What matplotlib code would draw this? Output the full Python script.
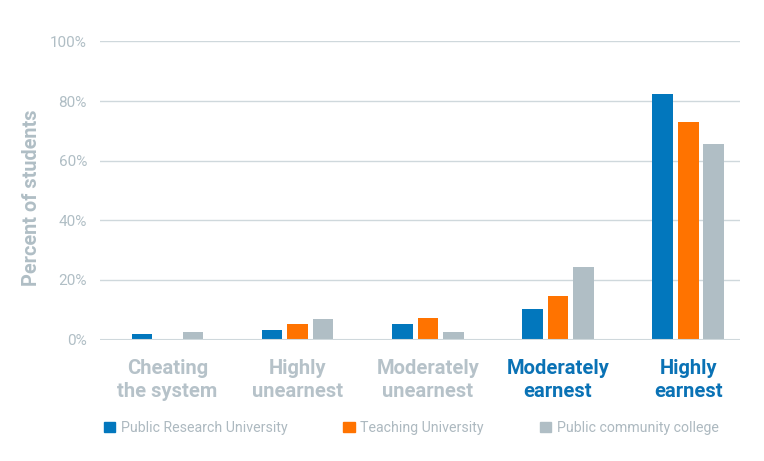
import matplotlib.pyplot as plt
import numpy as np
from matplotlib.patches import Patch

plt.rcParams["font.family"] = ["Roboto", "DejaVu Sans"]

# data
categories = ["Cheating\nthe system", "Highly\nunearnest", "Moderately\nunearnest",
              "Moderately\nearnest", "Highly\nearnest"]
series = ["Public Research University", "Teaching University", "Public community college"]
research = [1.7, 3.1, 5.1, 10.2, 82.5]
teaching = [0.0, 5.2, 7.2, 14.5, 73.1]
community = [2.5, 6.8, 2.6, 24.3, 65.6]
yticks = [0, 20, 40, 60, 80, 100]

colors = ["#0277bd", "#ff7300", "#b0bec5"]
label_colors = ["#b6c2c9", "#b6c2c9", "#b6c2c9", "#0a72b5", "#0a72b5"]
grey_text = "#b0bec5"

fig = plt.figure(figsize=(7.64, 4.61), dpi=100)
ax = fig.add_axes([0.131, 0.2635, 0.838, 0.6465])

x = np.arange(len(categories))
width = 0.158
step = 0.196
for i, (vals, c) in enumerate(zip([research, teaching, community], colors)):
    ax.bar(x + (i - 1) * step, vals, width, color=c, zorder=3)

ax.set_xlim(-0.517, 4.40)
ax.set_ylim(0, 100)
ax.set_yticks(yticks)
ax.set_yticklabels(["{}%".format(t) for t in yticks])
ax.grid(axis="y", color="#cfd8dc", linewidth=1, zorder=0)
for s in ax.spines.values():
    s.set_visible(False)
ax.axhline(0, color="#cfd8dc", linewidth=1.5, zorder=4)
ax.tick_params(axis="y", length=0, pad=9.5, labelsize=11, labelcolor=grey_text)
ax.tick_params(axis="x", length=0, pad=14)

ax.set_xticks(x)
ax.set_xticklabels(categories, fontsize=14.5, fontweight="bold", linespacing=1.25)
for lbl, c in zip(ax.get_xticklabels(), label_colors):
    lbl.set_color(c)

ax.set_ylabel("Percent of students", fontsize=14.3, fontweight="bold", color=grey_text)
ax.yaxis.set_label_coords(-0.092, 0.4765)

handles = [Patch(color=c, label=s) for c, s in zip(colors, series)]
fig.legend(handles=handles, loc="center left", bbox_to_anchor=(0.136, 0.0716),
           ncol=3, frameon=False, fontsize=10.2, labelcolor="#adb9c0",
           handlelength=0.78, handleheight=0.78, handletextpad=0.42,
           columnspacing=3.95, borderpad=0, borderaxespad=0)

fig.savefig("out.png", dpi=100)
